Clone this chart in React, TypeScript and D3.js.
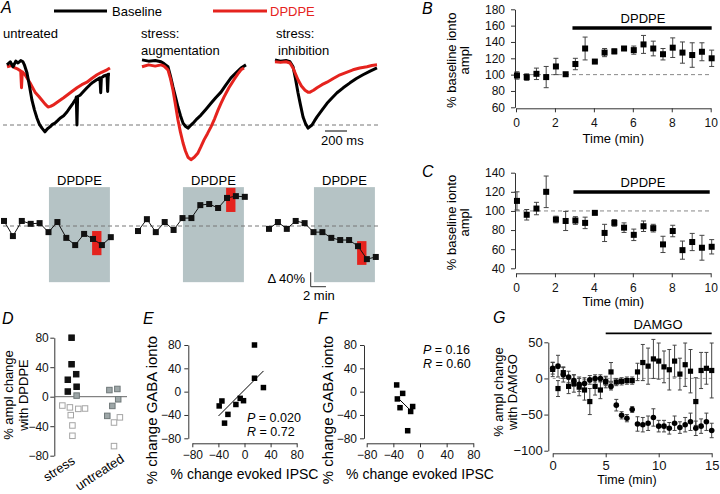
import * as React from "react";
import { useRef, useEffect } from "react";
import * as d3 from "d3";

type Pt = [number, number];

const FONT = "'Liberation Sans', Arial, Helvetica, sans-serif";
const RED = "#e5231e";
const BOX = "#b5c3c5";
const AXIS = "#333";

// A (top): example IPSC traces, [time (ms), amplitude (% of baseline peak)]
const untreatedBaseline: Pt[] = [
  [0, -3], [30, 2], [55, -6], [80, 3], [100, 0], [125, 4], [145, 2], [160, -4], [182, -16],
  [205, -38], [227, -60], [250, -76], [273, -89], [295, -99], [318, -105], [345, -111],
  [368, -106], [391, -103], [413, -99], [436, -97], [460, -93], [482, -89], [515, -85],
  [545, -79], [572, -72], [600, -65], [625, -58], [630, -55], [636, -100], [642, -54],
  [664, -52], [695, -46], [727, -40], [755, -35], [782, -31], [815, -27], [845, -24],
  [852, -48], [858, -24], [880, -21], [909, -19], [915, -46], [921, -18], [936, -18],
];
const untreatedDpdpe: Pt[] = [
  [0, -6], [40, -4], [73, -8], [100, -10], [125, -13], [132, -40], [139, -14], [164, -19],
  [209, -32], [255, -47], [290, -54], [318, -60], [345, -66], [373, -71], [395, -70],
  [418, -68], [450, -64], [482, -60], [515, -56], [545, -52], [590, -46], [636, -40],
  [680, -35], [727, -31], [770, -25], [818, -19], [860, -15], [909, -11], [936, -8],
];
const augmentBaseline: Pt[] = [
  [0, 5], [60, 3], [120, 4], [173, 2], [200, -1], [236, -6], [260, -22], [282, -39],
  [305, -55], [327, -71], [350, -85], [373, -97], [395, -102], [418, -105], [440, -101],
  [464, -97], [500, -90], [536, -84], [580, -75], [627, -65], [670, -56], [718, -47],
  [760, -36], [809, -24], [855, -16], [900, -8], [945, -3],
];
const augmentDpdpe: Pt[] = [
  [0, -6], [60, -3], [120, -5], [173, -3], [200, -5], [236, -11], [260, -26], [282, -44],
  [305, -68], [327, -92], [350, -112], [373, -129], [395, -142], [418, -152], [445, -156],
  [475, -152], [509, -145], [536, -135], [564, -124], [595, -114], [627, -103], [660, -90],
  [691, -76], [718, -65], [745, -55], [790, -40], [836, -27], [870, -18], [900, -11], [927, -8],
];
const inhibitBaseline: Pt[] = [
  [0, 5], [50, 3], [100, 4], [136, 2], [164, -6], [185, -24], [209, -48], [232, -68],
  [255, -87], [278, -98], [300, -105], [336, -100], [360, -93], [382, -87], [427, -76],
  [473, -65], [520, -56], [564, -48], [620, -40], [682, -32], [740, -25], [800, -19],
  [865, -13], [927, -8],
];
const inhibitDpdpe: Pt[] = [
  [0, 2], [50, 1], [100, 2], [136, 0], [164, -8], [185, -17], [209, -27], [240, -37],
  [273, -44], [300, -47], [318, -47], [350, -44], [382, -40], [427, -35], [473, -31],
  [530, -25], [591, -19], [650, -15], [709, -11], [770, -8], [836, -6], [880, -4], [927, -3],
];

// A (bottom): single-cell amplitude time courses, % change, one sample per 70 s
const tcSample = [0, 1, 2, 3, 4, 5, 6, 7, 8, 9, 10, 11, 12];
const tcUntreated = [14, -28, 14, 6, 8, -17, 11, -33, -53, -22, -36, -53, -31];
const tcAugment = [-14, 19, -17, 11, -11, 22, 22, 58, 61, 50, 78, 83, 81];
const tcInhibit = [-8, 11, -8, 14, 8, -17, -17, -33, -39, -39, -56, -92, -86];
const tcRedRange: Pt[] = [[-81, -14], [39, 106], [-108, -42]];
const tcRedSpan: Pt = [9.9, 10.95];
const tcDrug: Pt = [5.05, 11.9];
const TC_SAMPLE_MIN = 70 / 60;

// B, C: % baseline ionto amplitude
const bcTime = [0.05, 0.55, 1.05, 1.55, 2.05, 2.55, 3.05, 3.55, 4.05, 4.55, 5.05, 5.55, 6.05, 6.55, 7.05, 7.55, 8.05, 8.55, 9.05, 9.55, 10.05];
const bMean = [99, 97, 101, 97, 110, 100.5, 113, 132, 116, 127, 128.5, 132, 130, 137, 132, 125, 133, 127, 124, 128, 120];
const bErr = [4.5, 4, 7, 13, 10, 1, 7, 14, 1, 5, 3, 2, 5, 11, 9, 7, 12, 13, 15, 11, 10];
const cMean = [110.5, 96, 102.5, 120, 91, 89.5, 90, 87.5, 98, 77, 87.5, 82.5, 75, 84, 82, 65, 79, 59, 67.5, 61.5, 62.5];
const cErr = [9.5, 5.5, 6.5, 16.5, 3.5, 10, 4, 6, 1.5, 9, 3.5, 5, 6, 5.5, 4, 8.5, 6, 9.5, 9, 13, 7.5];
const bDrug: Pt = [2.9, 10.05];
const cDrug: Pt = [2.95, 9.95];

// D: % ampl change with DPDPE per cell
const dCategories = ["stress", "untreated"];
const dStress = [80, 44, 30.5, 23, 13.5, 7, 1.5, -12, -14.5, -16.5, -16, -25, -39, -53];
const dStressKind = ["black", "black", "black", "black", "black", "black", "grey", "open", "open", "open", "open", "open", "open", "open"];
const dStressJitter = [-0.01, -0.01, 0.1, -0.1, 0.11, -0.1, 0.11, -0.23, -0.05, 0.15, 0.31, -0.03, 0.01, 0.01];
const dUntreated = [9, 10.5, -3.5, -12.5, -26, -28, -35, -67];
const dUntreatedKind = ["grey", "grey", "grey", "grey", "grey", "open", "open", "open"];
const dUntreatedJitter = [-0.11, 0.08, 0.1, -0.04, -0.16, 0.14, 0, 0];

// E, F: % change evoked IPSC vs % change GABA ionto
const eX = [15.3, 15.3, 29, -34.6, -38.8, -25.4, -30.6, -13.2, -6.6, -1.5];
const eY = [80, 23, 7, -16, -24.5, -39, -54, -22, -11.5, -15.5];
const eFit: Pt[] = [[-39.8, -41.7], [29.1, 35.5]];
const fX = [-35, -26, -34, -30, -11, -14, -18.5];
const fY = [11.5, -3, -12.5, -27.5, -25.5, -34, -67];
const fFit: Pt[] = [[-32.6, -11.4], [-13.5, -33]];

// G: % ampl change with DAMGO, two groups
const gTime = [0, 0.5, 1, 1.5, 2, 2.5, 3, 3.5, 4, 4.5, 5, 5.5, 6, 6.5, 7, 7.5, 8, 8.5, 9, 9.5, 10, 10.5, 11, 11.5, 12, 12.5, 13, 13.5, 14, 14.5, 15];
const gSquare = [12.5, -14, 8, -11, -7, -12, -16, -32, -11, -16, -5, 9, -5, -4, -3, -3, 9, 22, 17, 27, 24, 16, 12, 24, 6, 19, 10, -32, 11, 14, 11];
const gSquareErr = [10, 11, 8, 10, 12, 12, 14, 18, 12, 12, 8, 13, 5, 5, 5, 5, 12, 25, 25, 27, 25, 22, 28, 22, 22, 30, 30, 33, 25, 22, 38];
const gCircle = [14, 17, 5, 2, -3, -8, -7, -2, 0, 0, -4, -11, -37, -51, -55, -43, -63, -64, -62, -54, -66, -66, -69, -62, -68, -64, -60, -69, -66, -60, -72];
const gCircleErr = [8, 15, 10, 8, 8, 10, 8, 6, 5, 5, 6, 5, 8, 5, 5, 4, 10, 10, 10, 12, 8, 8, 8, 10, 8, 10, 12, 10, 10, 12, 10];
const gDrug: Pt = [5, 15];

const App = () => {
  const _svgRef = useRef<SVGSVGElement>(null);

  useEffect(() => {
    const svg = d3.select(_svgRef.current);
    svg.selectAll("*").remove();
    svg.attr("font-family", FONT);

    const text = (x: number, y: number, s: string, size: number, anchor = "start", fill = "#000") =>
      svg.append("text").attr("x", x).attr("y", y).attr("font-size", size)
        .attr("text-anchor", anchor).attr("fill", fill).text(s);
    const vText = (x: number, y: number, s: string, size: number) =>
      svg.append("text").attr("transform", `translate(${x},${y}) rotate(-90)`)
        .attr("font-size", size).attr("text-anchor", "middle").text(s);
    const letter = (x: number, y: number, s: string) =>
      text(x, y, s, 16).attr("font-style", "italic");
    const hLine = (x1: number, x2: number, y: number, stroke: string, w = 1, dash = "") =>
      svg.append("line").attr("x1", x1).attr("x2", x2).attr("y1", y).attr("y2", y)
        .attr("stroke", stroke).attr("stroke-width", w).attr("stroke-dasharray", dash || null);
    const axis = (ax: any, transform: string, size: number) => {
      const g = svg.append("g").attr("transform", transform).call(ax);
      g.attr("font-family", FONT).attr("font-size", size);
      g.selectAll("path, line").attr("stroke", AXIS);
      g.selectAll("text").attr("fill", "#111");
      return g;
    };
    const errBars = (xs: number[], ys: number[], es: number[], x: any, y: any, cap: number) => {
      const g = svg.append("g").attr("stroke", "#444").attr("stroke-width", 1);
      xs.forEach((t, i) => {
        const cx = x(t);
        const top = y(ys[i] + es[i]);
        const bot = y(ys[i] - es[i]);
        g.append("line").attr("x1", cx).attr("x2", cx).attr("y1", top).attr("y2", bot);
        g.append("line").attr("x1", cx - cap).attr("x2", cx + cap).attr("y1", top).attr("y2", top);
        g.append("line").attr("x1", cx - cap).attr("x2", cx + cap).attr("y1", bot).attr("y2", bot);
      });
    };
    const squares = (xs: number[], ys: number[], x: any, y: any, s: number, fill = "#000") => {
      svg.append("g").selectAll("rect").data(xs).join("rect")
        .attr("x", (d) => x(d) - s / 2).attr("y", (_, i) => y(ys[i]) - s / 2)
        .attr("width", s).attr("height", s).attr("fill", fill);
    };

    // ---------------- A: legend + traces ----------------
    letter(1, 13, "A");
    hLine(54, 107, 11, "#000", 3);
    text(112, 16, "Baseline", 13);
    hLine(213, 267, 11, RED, 3);
    text(270, 16, "DPDPE", 13, "start", RED);
    text(3, 38, "untreated", 13);
    text(141, 38, "stress:", 13);
    text(141, 55, "augmentation", 13);
    text(276, 38, "stress:", 13);
    text(278, 55, "inhibition", 13);

    const yTrace = d3.scaleLinear().domain([0, -100]).range([63, 125]);
    hLine(3, 378, yTrace(-100), "#777", 1, "4,3");
    const traceSets: [number, Pt[], Pt[]][] = [
      [7, untreatedBaseline, untreatedDpdpe],
      [142, augmentBaseline, augmentDpdpe],
      [275, inhibitBaseline, inhibitDpdpe],
    ];
    traceSets.forEach(([x0, base, drug]) => {
      const xTrace = d3.scaleLinear().domain([0, 1000]).range([x0, x0 + 110]);
      const line = d3.line<Pt>().x((d) => xTrace(d[0])).y((d) => yTrace(d[1]));
      const order: [Pt[], string][] = x0 === 7 ? [[drug, RED], [base, "#000"]] : [[base, "#000"], [drug, RED]];
      order.forEach(([data, color]) => {
        svg.append("path").datum(data).attr("fill", "none").attr("stroke", color)
          .attr("stroke-width", 3).attr("stroke-linejoin", "round").attr("d", line);
      });
    });
    const xBar = d3.scaleLinear().domain([0, 1000]).range([0, 110]);
    hLine(325, 325 + xBar(200), 131, "#000", 1);
    text(321, 145, "200 ms", 13);

    // ---------------- A: time courses ----------------
    const yTc = d3.scaleLinear().domain([0, 40]).range([226, 211.6]);
    const tcSets: [number, number[], Pt][] = [
      [4, tcUntreated, tcRedRange[0]],
      [138, tcAugment, tcRedRange[1]],
      [269, tcInhibit, tcRedRange[2]],
    ];
    tcSets.forEach(([x0]) => {
      const x = d3.scaleLinear().domain([0, 12]).range([x0, x0 + 106.8]);
      svg.append("rect").attr("x", x(tcDrug[0])).attr("y", yTc(108))
        .attr("width", x(tcDrug[1]) - x(tcDrug[0])).attr("height", yTc(-156) - yTc(108)).attr("fill", BOX);
      text((x(tcDrug[0]) + x(tcDrug[1])) / 2, 185, "DPDPE", 13, "middle");
    });
    hLine(3, 378, yTc(0), "#777", 1, "4,3");
    tcSets.forEach(([x0, vals, red]) => {
      const x = d3.scaleLinear().domain([0, 12]).range([x0, x0 + 106.8]);
      svg.append("rect").attr("x", x(tcRedSpan[0])).attr("y", yTc(red[1]))
        .attr("width", x(tcRedSpan[1]) - x(tcRedSpan[0])).attr("height", yTc(red[0]) - yTc(red[1])).attr("fill", RED);
      const line = d3.line<number>().x((d) => x(d)).y((_, i) => yTc(vals[i]));
      svg.append("path").datum(tcSample).attr("fill", "none").attr("stroke", "#111").attr("stroke-width", 1).attr("d", line);
      squares(tcSample, vals, x, yTc, 6, "#111");
    });
    const xTcBar = d3.scaleLinear().domain([0, 12]).range([0, 106.8]);
    svg.append("path")
      .attr("d", `M310.7,${286.7 - (yTc(0) - yTc(40))}V286.7H${310.7 + xTcBar(2 / TC_SAMPLE_MIN)}`)
      .attr("fill", "none").attr("stroke", "#333");
    text(305, 283, "Δ 40%", 13, "end");
    text(303, 300, "2 min", 13);

    // ---------------- B & C ----------------
    const xBC = d3.scaleLinear().domain([0, 10]).range([516, 710.7]);
    const panelBC = (
      mean: number[], err: number[], drug: Pt, domain: Pt, top: number, bottom: number,
      ticks: number[], xAxisY: number, letterY: number, barY: number, titleY: number, name: string
    ) => {
      const y = d3.scaleLinear().domain(domain).range([bottom, top]);
      letter(422, letterY, name);
      axis(d3.axisLeft(y).tickValues(ticks).tickSize(4).tickSizeOuter(0).tickPadding(6), "translate(515,0)", 12);
      axis(d3.axisBottom(xBC).tickValues([0, 2, 4, 6, 8, 10]).tickSize(4).tickSizeOuter(0).tickPadding(6),
        `translate(0,${xAxisY})`, 12);
      hLine(xBC(0), xBC(10), y(100), "#888", 1, "4,3");
      hLine(xBC(drug[0]), xBC(drug[1]), barY, "#000", 3.5);
      text(643, barY - 5, "DPDPE", 13, "middle");
      errBars(bcTime, mean, err, xBC, y, 2.5);
      squares(bcTime, mean, xBC, y, 6);
      const mid = (top + bottom) / 2;
      vText(456, mid + 2, "% baseline ionto", 13);
      vText(469, mid + 2, "ampl", 13);
      text(xBC(5), titleY, "Time (min)", 13, "middle");
    };
    panelBC(bMean, bErr, bDrug, [60, 180], 9.3, 107.3, [60, 80, 100, 120, 140, 160, 180], 108.3, 14, 28, 143, "B");
    panelBC(cMean, cErr, cDrug, [40, 140], 172.7, 268.3, [40, 60, 80, 100, 120, 140], 273.3, 177, 192, 306, "C");

    // ---------------- D ----------------
    letter(2, 324, "D");
    const yD = d3.scaleLinear().domain([-80, 80]).range([455.7, 337.7]);
    const xD = d3.scalePoint().domain(dCategories).range([72, 114]);
    const stepD = xD.step();
    axis(d3.axisLeft(yD).tickValues([-80, -40, 0, 40, 80]).tickSize(4).tickSizeOuter(0).tickPadding(1.5), "translate(54.3,0)", 12);
    hLine(54.3, 127, yD(0), "#666", 1);
    const dGroups: [string, number[], string[], number[]][] = [
      ["stress", dStress, dStressKind, dStressJitter],
      ["untreated", dUntreated, dUntreatedKind, dUntreatedJitter],
    ];
    const kindStyle: Record<string, [string, string]> = {
      black: ["#111", "#111"],
      grey: ["#9ea7a8", "#6f7879"],
      open: ["#fff", "#a5a5a5"],
    };
    dGroups.forEach(([cat, vals, kinds, jit]) => {
      svg.append("g").selectAll("rect").data(vals).join("rect")
        .attr("x", (_, i) => (xD(cat) as number) + jit[i] * stepD - 2.75)
        .attr("y", (d) => yD(d) - 2.75)
        .attr("width", 5.5).attr("height", 5.5)
        .attr("fill", (_, i) => kindStyle[kinds[i]][0])
        .attr("stroke", (_, i) => kindStyle[kinds[i]][1]).attr("stroke-width", 1);
    });
    svg.append("text").attr("transform", "translate(76,463) rotate(-33)").attr("font-size", 13)
      .attr("text-anchor", "end").text("stress");
    svg.append("text").attr("transform", "translate(125,461) rotate(-33)").attr("font-size", 13)
      .attr("text-anchor", "end").text("untreated");
    vText(13, 395, "% ampl change", 13);
    vText(28, 395, "with DPDPE", 13);

    // ---------------- E & F ----------------
    const scatter = (
      xs: number[], ys: number[], fit: Pt[], x0: number, x1: number, yAxisX: number,
      name: string, letterX: number, statX: number, statY: number, p: string, r: string
    ) => {
      const x = d3.scaleLinear().domain([-80, 80]).range([x0, x1]);
      const y = d3.scaleLinear().domain([-80, 80]).range([438.3, 345]);
      letter(letterX, 324, name);
      axis(d3.axisLeft(y).tickValues([-80, -40, 0, 40, 80]).tickSize(4).tickSizeOuter(0).tickPadding(3), `translate(${yAxisX},0)`, 12);
      axis(d3.axisBottom(x).tickValues([-80, -40, 0, 40, 80]).tickSize(4).tickSizeOuter(0).tickPadding(3), "translate(0,443.3)", 12);
      svg.append("line").attr("x1", x(fit[0][0])).attr("y1", y(fit[0][1]))
        .attr("x2", x(fit[1][0])).attr("y2", y(fit[1][1])).attr("stroke", "#000").attr("stroke-width", 1);
      squares(xs, ys, x, y, 5.5);
      const t1 = text(statX, statY, "", 12.5);
      t1.append("tspan").attr("font-style", "italic").text("P");
      t1.append("tspan").text(` = ${p}`);
      const t2 = text(statX, statY + 14, "", 12.5);
      t2.append("tspan").attr("font-style", "italic").text("R");
      t2.append("tspan").text(` = ${r}`);
      text((x0 + x1) / 2, 479, "% change evoked IPSC", 14, "middle");
      vText(yAxisX - 31, 410, "% change GABA ionto", 15);
    };
    scatter(eX, eY, eFit, 192.3, 296.7, 188.3, "E", 143, 247, 421.5, "0.020", "0.72");
    scatter(fX, fY, fFit, 366.7, 473.3, 364, "F", 318, 423, 353.5, "0.16", "0.60");

    // ---------------- G ----------------
    letter(493, 323, "G");
    const xG = d3.scaleLinear().domain([0, 15]).range([552.7, 711.7]);
    const yG = d3.scaleLinear().domain([-100, 50]).range([450.7, 342.3]);
    axis(d3.axisLeft(yG).tickValues([-100, -50, 0, 50]).tickSize(4).tickSizeOuter(0).tickPadding(1.5), "translate(548.3,0)", 13);
    axis(d3.axisBottom(xG).tickValues([0, 5, 10, 15]).tickSize(4).tickSizeOuter(0).tickPadding(3), "translate(0,453.3)", 13);
    hLine(xG(0), xG(15), yG(0), "#999", 1, "3,3");
    hLine(xG(gDrug[0]), xG(gDrug[1]), 333.3, "#000", 1.8);
    text(658, 329, "DAMGO", 13, "middle");
    errBars(gTime, gSquare, gSquareErr, xG, yG, 2);
    errBars(gTime, gCircle, gCircleErr, xG, yG, 2);
    squares(gTime, gSquare, xG, yG, 5.2);
    svg.append("g").selectAll("circle").data(gTime).join("circle")
      .attr("cx", (d) => xG(d)).attr("cy", (_, i) => yG(gCircle[i])).attr("r", 2.8).attr("fill", "#000");
    vText(503, 392, "% ampl change", 13);
    vText(517, 392, "with DAMGO", 13);
    text(627, 484, "Time (min)", 12.5, "middle");
  }, []);

  return (
    <svg
      ref={_svgRef}
      width={720}
      height={494}
      style={{ position: "absolute", left: 0, top: 0, background: "#fff" }}
    ></svg>
  );
};

export default App;
